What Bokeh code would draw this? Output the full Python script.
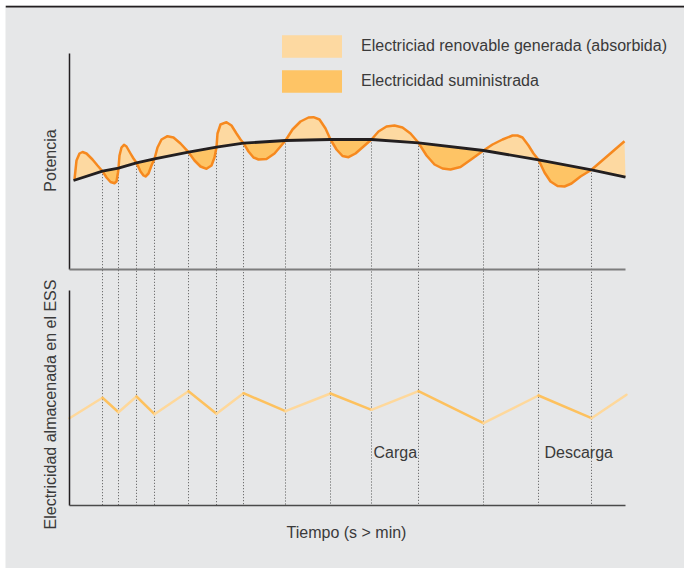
import math
from bokeh.plotting import figure
from bokeh.models import Range1d, Legend, LegendItem, Span
from bokeh.core.properties import value
from bokeh.embed import file_html
from bokeh.resources import INLINE

# ---------------- data (arbitrary units) ----------------
# instants where generation crosses demand (charge <-> discharge switch)
crossing_t = [33, 49, 67, 85, 119, 147, 174, 216, 261, 302, 349, 414, 469, 522]

# demand curve (black) : start, crossings, end
demand_t = [4] + crossing_t + [556]
demand_p = [89, 98.3, 101.3, 106.7, 110.7, 117.3, 122.3, 126.3, 129, 130, 130,
            126.7, 119, 109.7, 99.7, 92.3]

# renewable generation (orange)
renew_t = [5, 7, 10, 13, 17, 23, 28, 33,
           37, 41, 45, 47, 48.5, 49,
           50, 52, 54.5, 57, 61, 64, 67,
           71, 74, 76, 79, 82, 85,
           88, 92, 98, 104, 111, 119,
           125, 131, 137, 142, 145, 147,
           148, 151, 157, 162, 167, 171, 174,
           179, 184, 189, 197, 205, 211, 216,
           223, 231, 239, 244, 250, 256, 261,
           267, 273, 279, 286, 294, 302,
           309, 317, 325, 333, 341, 349,
           357, 365, 373, 381, 391, 403, 414,
           423, 433, 443, 448, 453, 459, 464, 469,
           475, 481, 488, 495, 502, 511, 522,
           555]
renew_p = [90, 109, 116, 117.5, 116, 110, 104, 98.3,
           92, 87.5, 86.3, 88, 97, 101.3,
           114, 122, 124.7, 123, 116, 111, 106.7,
           98, 94, 93, 96, 104, 110.7,
           122, 130, 133.3, 132, 126, 117.3,
           109, 103, 100.7, 104, 112, 122.3,
           136, 145, 147.3, 144, 136, 130, 126.3,
           118, 112, 110, 110.5, 116, 123, 129,
           140, 148, 152, 152.3, 150, 141, 130,
           120, 113.5, 112.3, 116, 123, 130,
           138, 143, 144, 142, 136, 126.7,
           114, 105, 101, 100, 102.5, 111, 119,
           125, 130, 134, 134, 132, 124, 116, 109.7,
           97, 88, 83.5, 83, 86, 93, 99.7,
           128.3]

# electricity stored in the ESS
storage_t = [0] + crossing_t + [557]
storage_s = [87.3, 107.7, 93.3, 109, 91.3, 114.3, 91.7, 112.3, 94.3, 112, 95.7,
             114.3, 82.3, 110, 87.3, 110.7]

legend_labels = ["Electriciad renovable generada (absorbida)", "Electricidad suministrada"]
y_label_top = "Potencia"
y_label_bottom = "Electricidad almacenada en el ESS"
x_label = "Tiempo (s > min)"
phase_labels = ["Carga", "Descarga"]

# ---------------- styling / layout ----------------
BG = "#e6e7e8"
LIGHT = "#fdd9a1"
DARK = "#fec465"
LIGHT_LINE = "#fed89b"
DARK_LINE = "#fdc15e"
ORANGE = "#f6891f"
BLACK = "#231f20"
TEXT = "#3a3a3a"
FONT = "Liberation Sans"

W, H = 684, 568
BORDER_LEFT = 5
BORDER_TOP = 5
ORIGIN_X = 69       # page x of both y-axes
TOP_BASE = 269      # page y of upper panel baseline
TOP_AXIS_TOP = 53
BOT_BASE = 505      # page y of lower panel baseline
BOT_AXIS_TOP = 290
AXIS_RIGHT = 625

p = figure(width=W, height=H, output_backend="svg", toolbar_location=None,
           x_axis_type=None, y_axis_type=None,
           x_range=Range1d(BORDER_LEFT - ORIGIN_X, W - ORIGIN_X),
           y_range=Range1d(TOP_BASE - H, TOP_BASE - BORDER_TOP),
           min_border_left=BORDER_LEFT, min_border_right=0, min_border_bottom=0,
           min_border_top=BORDER_TOP)
p.extra_y_ranges = {"ess": Range1d(BOT_BASE - H, BOT_BASE - BORDER_TOP)}
p.background_fill_color = BG
p.border_fill_color = "white"
p.outline_line_color = None
p.grid.visible = False

# dark rule along the top edge of the panel
p.add_layout(Span(location=TOP_BASE - BORDER_TOP - 1, dimension="width",
                  line_color=BLACK, line_width=2))

def tx(px):
    return px - ORIGIN_X

# dotted switch lines from the crossing down to the lower baseline
cross_p = demand_p[1:-1]
p.segment(x0=crossing_t, y0=cross_p, x1=crossing_t,
          y1=[-(BOT_BASE - TOP_BASE)] * len(crossing_t),
          line_color="#555555", line_width=1, line_dash="1 2")

# fill polygons between generation and demand
light_xs, light_ys, dark_xs, dark_ys = [], [], [], []
for i in range(len(demand_t) - 1):
    a, b = demand_t[i], demand_t[i + 1]
    pts = [(t, v) for t, v in zip(renew_t, renew_p) if a <= t <= b]
    xs = [t for t, _ in pts] + [b, a]
    ys = [v for _, v in pts] + [demand_p[i + 1], demand_p[i]]
    mean_r = sum(v for _, v in pts) / len(pts)
    mean_d = (demand_p[i] + demand_p[i + 1]) / 2
    if mean_r >= mean_d:
        light_xs.append(xs); light_ys.append(ys)
    else:
        dark_xs.append(xs); dark_ys.append(ys)

r_light = p.patches(light_xs, light_ys, fill_color=LIGHT, line_color=None)
r_dark = p.patches(dark_xs, dark_ys, fill_color=DARK, line_color=None)

p.line(renew_t, renew_p, line_color=ORANGE, line_width=2.5, line_join="round")
p.line(demand_t, demand_p, line_color=BLACK, line_width=2.8, line_join="round")

# storage level, light when charging, dark when discharging
seg_col = [LIGHT_LINE if storage_s[i + 1] > storage_s[i] else DARK_LINE
           for i in range(len(storage_s) - 1)]
p.segment(x0=storage_t[:-1], y0=storage_s[:-1], x1=storage_t[1:], y1=storage_s[1:],
          line_color=seg_col, line_width=2.5, line_cap="round", y_range_name="ess")

# axis lines
p.segment(x0=[0], y0=[0], x1=[0], y1=[TOP_BASE - TOP_AXIS_TOP], line_color=BLACK, line_width=1.5)
p.segment(x0=[0], y0=[0], x1=[tx(AXIS_RIGHT)], y1=[0], line_color="#7d7d7d", line_width=1.8)
p.segment(x0=[0], y0=[0], x1=[0], y1=[BOT_BASE - BOT_AXIS_TOP], line_color=BLACK,
          line_width=1.5, y_range_name="ess")
p.segment(x0=[0], y0=[0], x1=[tx(AXIS_RIGHT)], y1=[0], line_color="#4a4a4a",
          line_width=1.6, y_range_name="ess")

# texts
p.text(x=[tx(50)], y=[TOP_BASE - 160], text=[y_label_top], angle=math.pi / 2,
       text_align="center", text_baseline="middle", text_font=value(FONT),
       text_font_size="16px", text_color=TEXT)
p.text(x=[tx(50)], y=[BOT_BASE - 404], text=[y_label_bottom], angle=math.pi / 2,
       text_align="center", text_baseline="middle", text_font=value(FONT),
       text_font_size="16px", text_color=TEXT, y_range_name="ess")
p.text(x=[tx(346)], y=[BOT_BASE - 532], text=[x_label],
       text_align="center", text_baseline="middle", text_font=value(FONT),
       text_font_size="16px", text_color=TEXT, y_range_name="ess")
p.text(x=[tx(373), tx(544)], y=[BOT_BASE - 452, BOT_BASE - 452], text=phase_labels,
       text_align="left", text_baseline="middle", text_font=value(FONT),
       text_font_size="16px", text_color=TEXT, y_range_name="ess")

legend = Legend(items=[LegendItem(label=legend_labels[0], renderers=[r_light]),
                       LegendItem(label=legend_labels[1], renderers=[r_dark])],
                location=(269, 473), glyph_width=75, glyph_height=28, spacing=7,
                label_standoff=12, padding=0, margin=0,
                label_text_font=FONT, label_text_font_size="16px",
                label_text_color=TEXT, border_line_color=None,
                background_fill_alpha=0)
p.add_layout(legend, "center")

open("out.html", "w").write(file_html(p, INLINE))
